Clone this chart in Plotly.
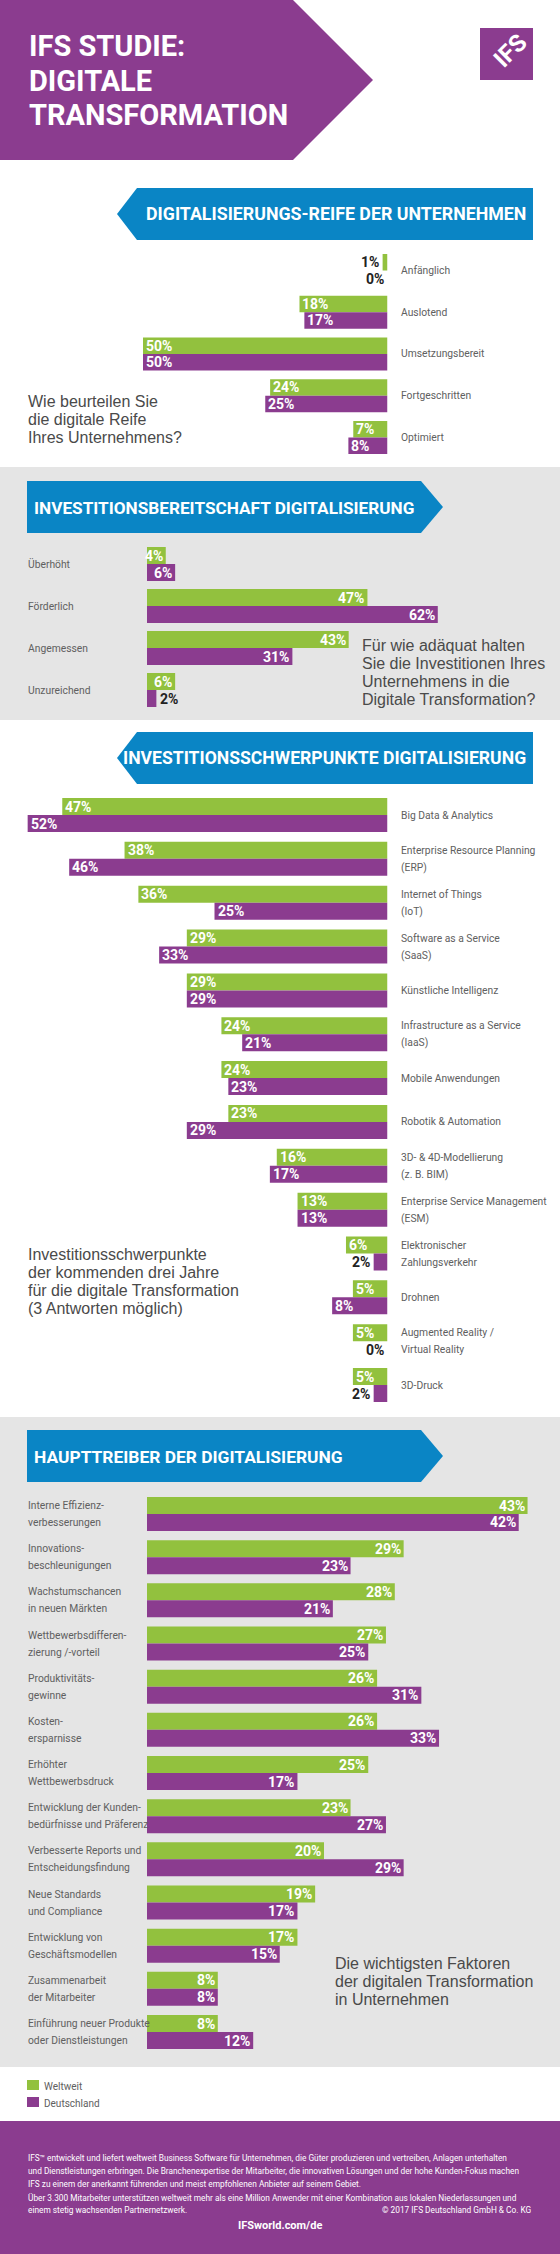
import plotly.graph_objects as go

W, H = 560, 2254

# ---------------- DATA ----------------
s1_categories = ["Anfänglich", "Auslotend", "Umsetzungsbereit", "Fortgeschritten", "Optimiert"]
s1_ticklabels = ["Anfänglich", "Auslotend", "Umsetzungsbereit", "Fortgeschritten", "Optimiert"]
s1_weltweit = [1, 18, 50, 24, 7]
s1_deutschland = [0, 17, 50, 25, 8]

s2_categories = ["Überhöht", "Förderlich", "Angemessen", "Unzureichend"]
s2_ticklabels = ["Überhöht", "Förderlich", "Angemessen", "Unzureichend"]
s2_weltweit = [4, 47, 43, 6]
s2_deutschland = [6, 62, 31, 2]

s3_categories = ["Big Data & Analytics", "Enterprise Resource Planning (ERP)", "Internet of Things (IoT)",
                 "Software as a Service (SaaS)", "Künstliche Intelligenz", "Infrastructure as a Service (IaaS)",
                 "Mobile Anwendungen", "Robotik & Automation", "3D- & 4D-Modellierung (z. B. BIM)",
                 "Enterprise Service Management (ESM)", "Elektronischer Zahlungsverkehr", "Drohnen",
                 "Augmented Reality / Virtual Reality", "3D-Druck"]
s3_ticklabels = ["Big Data & Analytics", "Enterprise Resource Planning\n(ERP)", "Internet of Things\n(IoT)",
                 "Software as a Service\n(SaaS)", "Künstliche Intelligenz", "Infrastructure as a Service\n(IaaS)",
                 "Mobile Anwendungen", "Robotik & Automation", "3D- & 4D-Modellierung\n(z. B. BIM)",
                 "Enterprise Service Management\n(ESM)", "Elektronischer\nZahlungsverkehr", "Drohnen",
                 "Augmented Reality /\nVirtual Reality", "3D-Druck"]
s3_weltweit = [47, 38, 36, 29, 29, 24, 24, 23, 16, 13, 6, 5, 5, 5]
s3_deutschland = [52, 46, 25, 33, 29, 21, 23, 29, 17, 13, 2, 8, 0, 2]

s4_categories = ["Interne Effizienzverbesserungen", "Innovationsbeschleunigungen", "Wachstumschancen in neuen Märkten",
                 "Wettbewerbsdifferenzierung /-vorteil", "Produktivitätsgewinne", "Kostenersparnisse",
                 "Erhöhter Wettbewerbsdruck", "Entwicklung der Kundenbedürfnisse und Präferenz",
                 "Verbesserte Reports und Entscheidungsfindung", "Neue Standards und Compliance",
                 "Entwicklung von Geschäftsmodellen", "Zusammenarbeit der Mitarbeiter",
                 "Einführung neuer Produkte oder Dienstleistungen"]
s4_ticklabels = ["Interne Effizienz-\nverbesserungen", "Innovations-\nbeschleunigungen", "Wachstumschancen\nin neuen Märkten",
                 "Wettbewerbsdifferen-\nzierung /-vorteil", "Produktivitäts-\ngewinne", "Kosten-\nersparnisse",
                 "Erhöhter\nWettbewerbsdruck", "Entwicklung der Kunden-\nbedürfnisse und Präferenz",
                 "Verbesserte Reports und\nEntscheidungsfindung", "Neue Standards\nund Compliance",
                 "Entwicklung von\nGeschäftsmodellen", "Zusammenarbeit\nder Mitarbeiter",
                 "Einführung neuer Produkte\noder Dienstleistungen"]
s4_weltweit = [43, 29, 28, 27, 26, 26, 25, 23, 20, 19, 17, 8, 8]
s4_deutschland = [42, 23, 21, 25, 31, 33, 17, 27, 29, 17, 15, 8, 12]

series_names = ["Weltweit", "Deutschland"]

title_lines = ["IFS STUDIE:", "DIGITALE", "TRANSFORMATION"]
section_titles = ["DIGITALISIERUNGS-REIFE DER UNTERNEHMEN", "INVESTITIONSBEREITSCHAFT DIGITALISIERUNG",
                  "INVESTITIONSSCHWERPUNKTE DIGITALISIERUNG", "HAUPTTREIBER DER DIGITALISIERUNG"]
q1_lines = ["Wie beurteilen Sie", "die digitale Reife", "Ihres Unternehmens?"]
q2_lines = ["Für wie adäquat halten", "Sie die Investitionen Ihres", "Unternehmens in die", "Digitale Transformation?"]
q3_lines = ["Investitionsschwerpunkte", "der kommenden drei Jahre", "für die digitale Transformation",
            "(3 Antworten möglich)"]
q4_lines = ["Die wichtigsten Faktoren", "der digitalen Transformation", "in Unternehmen"]
footer_lines = [
    "IFS™ entwickelt und liefert weltweit Business Software für Unternehmen, die Güter produzieren und vertreiben, Anlagen unterhalten",
    "und Dienstleistungen erbringen. Die Branchenexpertise der Mitarbeiter, die innovativen Lösungen und der hohe Kunden-Fokus machen",
    "IFS zu einem der anerkannt führenden und meist empfohlenen Anbieter auf seinem Gebiet.",
    "Über 3.300 Mitarbeiter unterstützen weltweit mehr als eine Million Anwender mit einer Kombination aus lokalen Niederlassungen und",
    "einem stetig wachsenden Partnernetzwerk.",
]
footer_copyright = "© 2017 IFS Deutschland GmbH & Co. KG"
footer_url = "IFSworld.com/de"

# ---------------- STYLE ----------------
GREEN = "#92c13e"
PURPLE = "#8b3c8f"
BLUE = "#0a85c5"
GRAY_BG = "#e5e5e5"
LABEL_GRAY = "#606060"
Q_GRAY = "#4a4a4a"
COND = "Roboto, Liberation Sans Narrow, DejaVu Sans Condensed, sans-serif"
SANS = "Liberation Sans, Arial, sans-serif"


def px(x):
    return x / W


def py(y):
    return 1 - y / H


def path(points):
    return "M " + " L ".join(f"{px(a):.5f},{py(b):.5f}" for a, b in points) + " Z"


fig = go.Figure()
shapes = []
annotations = []

# Backgrounds
shapes.append(dict(type="rect", xref="paper", yref="paper", x0=0, x1=1, y0=py(720), y1=py(467),
                   fillcolor=GRAY_BG, line_width=0, layer="below"))
shapes.append(dict(type="rect", xref="paper", yref="paper", x0=0, x1=1, y0=py(2067), y1=py(1417),
                   fillcolor=GRAY_BG, line_width=0, layer="below"))
shapes.append(dict(type="rect", xref="paper", yref="paper", x0=0, x1=1, y0=0, y1=py(2121),
                   fillcolor=PURPLE, line_width=0, layer="below"))

# Header arrow
shapes.append(dict(type="path", xref="paper", yref="paper",
                   path=path([(0, 0), (293, 0), (373, 80), (293, 160), (0, 160)]),
                   fillcolor=PURPLE, line_width=0, layer="below"))
for t, yy in zip(title_lines, [46, 81, 115]):
    annotations.append(dict(xref="paper", yref="paper", x=px(27), y=py(yy), xanchor="left", yanchor="middle",
                            text=t, showarrow=False,
                            font=dict(family=COND, size=29, color="white", weight="bold")))
# Logo
shapes.append(dict(type="rect", xref="paper", yref="paper", x0=px(480), x1=px(533), y0=py(80), y1=py(28),
                   fillcolor=PURPLE, line_width=0, layer="below"))
annotations.append(dict(xref="paper", yref="paper", x=px(510), y=py(51), xanchor="center", yanchor="middle",
                        text="IFS", showarrow=False, textangle=-45,
                        font=dict(family=COND, size=24, color="white", weight="bold")))

# Section header arrows
for top in [188, 732]:
    shapes.append(dict(type="path", xref="paper", yref="paper",
                       path=path([(137, top), (533, top), (533, top + 52), (137, top + 52), (117, top + 26)]),
                       fillcolor=BLUE, line_width=0, layer="below"))
for top in [481, 1430]:
    shapes.append(dict(type="path", xref="paper", yref="paper",
                       path=path([(27, top), (421, top), (443, top + 26), (421, top + 52), (27, top + 52)]),
                       fillcolor=BLUE, line_width=0, layer="below"))

header_pos = [(528, 214, "right", 17.8), (32, 508, "left", 17.2), (528, 758, "right", 17.6),
              (32, 1457, "left", 17.4)]
for t, (hx, hy, anc, fs) in zip(section_titles, header_pos):
    annotations.append(dict(xref="paper", yref="paper", x=px(hx), y=py(hy), xanchor=anc, yanchor="middle",
                            text=t, showarrow=False,
                            font=dict(family=COND, size=fs, color="white", weight="bold")))

# Bar sections
sections = [
    dict(cats=s1_categories, labels=s1_ticklabels, w=s1_weltweit, d=s1_deutschland,
         zero=387.5, scale=4.89, direction=-1, first=270.5, spacing=41.75, barh=16.5, label_x=400),
    dict(cats=s2_categories, labels=s2_ticklabels, w=s2_weltweit, d=s2_deutschland,
         zero=147, scale=4.69, direction=1, first=564, spacing=42, barh=17, label_x=27),
    dict(cats=s3_categories, labels=s3_ticklabels, w=s3_weltweit, d=s3_deutschland,
         zero=387.5, scale=6.92, direction=-1, first=815, spacing=43.85, barh=17, label_x=400),
    dict(cats=s4_categories, labels=s4_ticklabels, w=s4_weltweit, d=s4_deutschland,
         zero=147, scale=8.85, direction=1, first=1514, spacing=43.17, barh=17, label_x=27),
]

layout_axes = {}
for k, s in enumerate(sections, start=1):
    n = len(s["cats"])
    xname = "x" if k == 1 else f"x{k}"
    yname = "y" if k == 1 else f"y{k}"
    xkey = "xaxis" if k == 1 else f"xaxis{k}"
    ykey = "yaxis" if k == 1 else f"yaxis{k}"
    if s["direction"] < 0:
        d0, d1 = 15, s["zero"]
        rng = [(s["zero"] - d0) / s["scale"], 0]
    else:
        d0, d1 = s["zero"], 545
        rng = [0, (d1 - s["zero"]) / s["scale"]]
    top = s["first"] - s["spacing"] / 2
    bottom = s["first"] + (n - 1) * s["spacing"] + s["spacing"] / 2
    layout_axes[xkey] = dict(domain=[px(d0), px(d1)], range=rng, anchor=yname, visible=False, fixedrange=True)
    layout_axes[ykey] = dict(domain=[py(bottom), py(top)], range=[n - 0.5, -0.5], anchor=xname,
                             type="category", categoryorder="array", categoryarray=s["cats"],
                             visible=False, fixedrange=True)
    bw = s["barh"] / s["spacing"]
    for vals, nm, col, off in [(s["w"], series_names[0], GREEN, -bw), (s["d"], series_names[1], PURPLE, 0)]:
        fig.add_trace(go.Bar(x=vals, y=s["cats"], orientation="h", width=bw, offset=off, name=nm,
                             marker=dict(color=col, line=dict(width=0)), xaxis=xname, yaxis=yname,
                             showlegend=False, hoverinfo="skip"))
    # value labels
    for j in range(n):
        for vals, yy in [(s["w"], j - bw / 2), (s["d"], j + bw / 2)]:
            v = vals[j]
            inside = v * s["scale"] >= 14
            if s["direction"] < 0:
                xanchor = "left" if inside else "right"
                xshift = 1 if inside else -2
            else:
                xanchor = "right" if inside else "left"
                xshift = -1 if inside else 2
            annotations.append(dict(xref=xname, yref=yname, x=v, y=yy, xanchor=xanchor, yanchor="middle",
                                    xshift=xshift, text=f"{v}%", showarrow=False,
                                    font=dict(family=COND, size=14, weight="bold",
                                              color="white" if inside else "#222222")))
        # category labels
        lines = s["labels"][j].split("\n")
        ys = [j] if len(lines) == 1 else [j - bw / 2, j + bw / 2]
        for line, yy in zip(lines, ys):
            annotations.append(dict(xref="paper", yref=yname, x=px(s["label_x"]), y=yy, xanchor="left",
                                    yanchor="middle", text=line, showarrow=False, xshift=-1,
                                    font=dict(family=COND, size=10.3, color=LABEL_GRAY)))

# Question texts
for lines, x0, y0 in [(q1_lines, 27, 401), (q2_lines, 361, 646), (q3_lines, 27, 1254), (q4_lines, 334, 1963)]:
    for i, line in enumerate(lines):
        annotations.append(dict(xref="paper", yref="paper", x=px(x0), y=py(y0 + i * 18), xanchor="left",
                                yanchor="middle", text=line, showarrow=False, xshift=-1,
                                font=dict(family=SANS, size=16, color=Q_GRAY)))

# Legend (manual, from series names)
for nm, col, yy in [(series_names[0], GREEN, 2085), (series_names[1], PURPLE, 2102)]:
    shapes.append(dict(type="rect", xref="paper", yref="paper", x0=px(27), x1=px(39), y0=py(yy + 5),
                       y1=py(yy - 5), fillcolor=col, line_width=0))
    annotations.append(dict(xref="paper", yref="paper", x=px(42), y=py(yy + 1), xanchor="left", yanchor="middle",
                            text=nm, showarrow=False, font=dict(family=COND, size=10, color=LABEL_GRAY)))

# Footer
for line, yy in zip(footer_lines, [2158, 2171, 2184, 2198, 2210]):
    annotations.append(dict(xref="paper", yref="paper", x=px(27), y=py(yy), xanchor="left", yanchor="middle",
                            text=line, showarrow=False, xshift=-1,
                            font=dict(family=COND, size=8.3, color="white")))
annotations.append(dict(xref="paper", yref="paper", x=px(533), y=py(2210), xanchor="right", yanchor="middle",
                        text=footer_copyright, showarrow=False, xshift=1,
                        font=dict(family=COND, size=8.3, color="white")))
annotations.append(dict(xref="paper", yref="paper", x=px(280), y=py(2225), xanchor="center", yanchor="middle",
                        text=footer_url, showarrow=False,
                        font=dict(family=COND, size=11, color="white", weight="bold")))

fig.update_layout(
    width=W, height=H, margin=dict(l=0, r=0, t=0, b=0),
    paper_bgcolor="white", plot_bgcolor="rgba(0,0,0,0)",
    barmode="overlay", font=dict(family=SANS),
    shapes=shapes, annotations=annotations,
    showlegend=False,
    **layout_axes,
)

fig.write_html("out.html", config=dict(displayModeBar=False, staticPlot=True),
               post_script="document.body.style.margin='0';")
